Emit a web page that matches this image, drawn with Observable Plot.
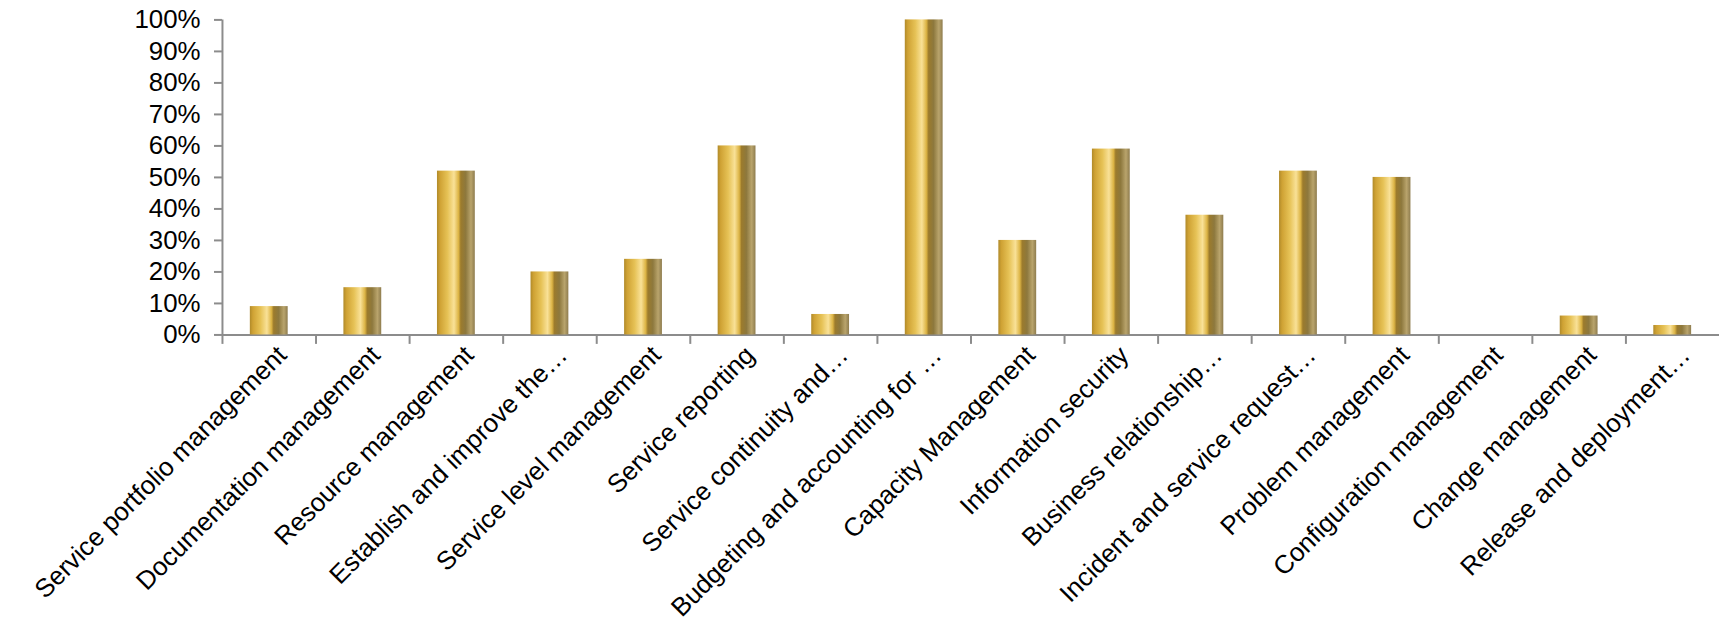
<!DOCTYPE html>
<html>
<head>
<meta charset="utf-8">
<script src="https://cdn.jsdelivr.net/npm/d3@7"></script>
<script src="https://cdn.jsdelivr.net/npm/@observablehq/plot@0.6"></script>
<style>
  html, body { margin: 0; padding: 0; background: #fff; overflow: hidden; }
  #chart svg { display: block; font-family: "Liberation Sans", Arial, sans-serif; }
</style>
</head>
<body>
<div id="chart"></div>
<script>
const categories = [
  "Service portfolio management",
  "Documentation management",
  "Resource management",
  "Establish and improve the…",
  "Service level management",
  "Service reporting",
  "Service continuity and…",
  "Budgeting and accounting for …",
  "Capacity Management",
  "Information security",
  "Business relationship…",
  "Incident and service request…",
  "Problem management",
  "Configuration management",
  "Change management",
  "Release and deployment…"
];
const values = [9, 15, 52, 20, 24, 60, 6.5, 100, 30, 59, 38, 52, 50, 0, 6, 3];
const yTicks = [0, 10, 20, 30, 40, 50, 60, 70, 80, 90, 100];

const data = categories.map((c, i) => ({category: c, value: values[i]}));

const W = 1727, ML = 223, MR = 0;
const band = (W - ML - MR) / categories.length;
const axisGray = "#8c8c8c";

const chart = Plot.plot({
  width: W,
  height: 620,
  marginTop: 19.5,
  marginBottom: 284,
  marginLeft: ML,
  marginRight: MR,
  style: {fontFamily: "'Liberation Sans', Arial, sans-serif", color: "#000", background: "#fff"},
  x: {domain: categories, paddingInner: 0.6, paddingOuter: 0.3, label: null},
  y: {domain: [0, 100], label: null},
  marks: [
    Plot.ruleY([0], {stroke: axisGray, strokeWidth: 2}),
    Plot.ruleX([categories[0]], {x: d => d, y1: 0, y2: 100, dx: -band / 2, stroke: axisGray, strokeWidth: 2}),
    Plot.ruleX(categories, {x: d => d, y1: -3, y2: 0, dx: -band / 2, stroke: axisGray, strokeWidth: 2}),
    Plot.axisY({ticks: yTicks, tickFormat: d => d + "%", tickSize: 8, tickPadding: 14,
      stroke: axisGray, strokeWidth: 2, fill: "#000", fontSize: 26}),
    Plot.axisX({tickSize: 0, tickRotate: -45, tickPadding: 16, dx: 13, fill: "#000", fontSize: 26}),
    Plot.barY(data, {x: "category", y: "value", fill: "url(#goldBody)",
      style: {filter: "drop-shadow(1.5px 1px 1.5px rgba(0,0,0,0.35))"}}),
    Plot.tickY(data.filter(d => d.value > 0), {x: "category", y: "value", dy: 4, stroke: "url(#goldCap)", strokeWidth: 8})
  ]
});

chart.insertAdjacentHTML("afterbegin", `
<defs>
  <linearGradient id="goldBody" x1="0" y1="0" x2="1" y2="0">
    <stop offset="0%" stop-color="#b08a2a"/>
    <stop offset="8%" stop-color="#cfa234"/>
    <stop offset="28%" stop-color="#e6c256"/>
    <stop offset="45%" stop-color="#f9e197"/>
    <stop offset="57%" stop-color="#dcb445"/>
    <stop offset="63%" stop-color="#9c7b2c"/>
    <stop offset="76%" stop-color="#8d783d"/>
    <stop offset="90%" stop-color="#b9a46c"/>
    <stop offset="100%" stop-color="#8e7c4e"/>
  </linearGradient>
  <linearGradient id="goldCap" x1="0" y1="0" x2="1" y2="0" gradientUnits="objectBoundingBox">
    <stop offset="0%" stop-color="#c7992c"/>
    <stop offset="15%" stop-color="#efc846"/>
    <stop offset="45%" stop-color="#fff2ae"/>
    <stop offset="62%" stop-color="#f3d462"/>
    <stop offset="72%" stop-color="#8f7431"/>
    <stop offset="100%" stop-color="#a89257"/>
  </linearGradient>
</defs>`);

document.getElementById("chart").appendChild(chart);
</script>
</body>
</html>
